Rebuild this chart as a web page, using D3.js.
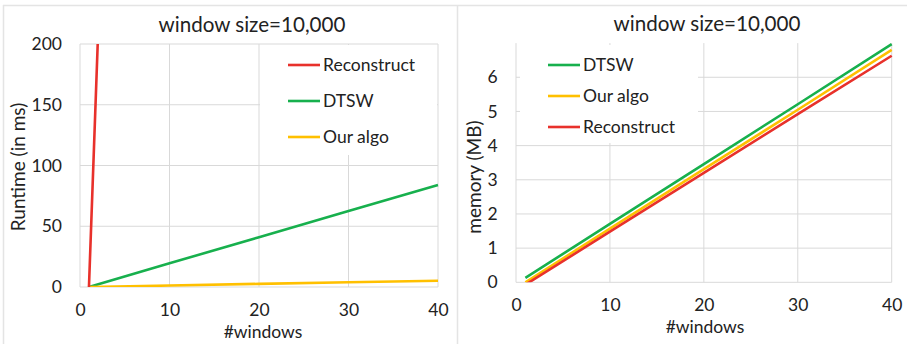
<!DOCTYPE html>
<html><head><meta charset="utf-8">
<script src="https://cdn.jsdelivr.net/npm/d3@7"></script>
<style>
html,body{margin:0;padding:0;background:#fff;}
svg text{font-family:Lato,"Open Sans",sans-serif;fill:#222;}
</style></head>
<body><svg id="c" width="907" height="344"></svg>
<script>
// ---- data ----
const titleText = "window size=10,000";
const xTicks = [0, 10, 20, 30, 40];

// Left chart: runtime (ms)
const windowsL = [1, 10, 20, 30, 40];
const runtimeReconstruct = [0, 1840, 3880, 5920, 7960];
const runtimeDTSW = [0, 19.5, 41, 62.5, 84];
const runtimeOurAlgo = [0, 1.2, 2.6, 3.9, 5.2];
const runtimeTicks = [0, 50, 100, 150, 200];

// Right chart: memory (MB)
const windowsR = [1, 10, 20, 30, 40];
const memDTSW = [0.13, 1.71, 3.46, 5.21, 6.97];
const memOurAlgo = [0.0, 1.57, 3.31, 5.05, 6.8];
const memReconstruct = [-0.07, 1.48, 3.2, 4.92, 6.63];
const memTicks = [0, 1, 2, 3, 4, 5, 6];

const colors = {Reconstruct: "#e8312b", DTSW: "#17b04d", "Our algo": "#ffc000"};

const svg = d3.select("#c");

// panel frames
svg.append("line").attr("x1", 3).attr("x2", 907).attr("y1", 5.5).attr("y2", 5.5).attr("stroke", "#e4e4e4").attr("stroke-width", 1.5);
svg.append("line").attr("x1", 3.5).attr("x2", 3.5).attr("y1", 5).attr("y2", 344).attr("stroke", "#e4e4e4").attr("stroke-width", 1.5);
svg.append("line").attr("x1", 457.5).attr("x2", 457.5).attr("y1", 5).attr("y2", 344).attr("stroke", "#e4e4e4").attr("stroke-width", 1.5);

function chart(o) {
  const g = svg.append("g");
  const x = d3.scaleLinear().domain([0, 40]).range([o.x0, o.x1]);
  const y = d3.scaleLinear().domain(o.yDomain).range([o.yBot, o.yTop]);
  // grid
  g.selectAll(".gx").data(xTicks).join("line")
    .attr("x1", d => x(d)).attr("x2", d => x(d)).attr("y1", o.yTop).attr("y2", o.yBot)
    .attr("stroke", "#d9d9d9").attr("stroke-width", 1);
  g.selectAll(".gy").data(o.yGrid).join("line")
    .attr("x1", o.x0).attr("x2", o.x1).attr("y1", d => y(d)).attr("y2", d => y(d))
    .attr("stroke", "#d9d9d9").attr("stroke-width", 1);
  // axes labels via d3 axes
  const ax = g.append("g").attr("transform", `translate(0,${o.xTickY})`)
    .call(d3.axisBottom(x).tickValues(xTicks).tickFormat(d3.format("d")).tickSize(0).tickPadding(0));
  ax.select(".domain").remove();
  ax.selectAll("text").attr("font-size", 17.5).attr("dy", "0.71em").style("font-family", "Lato,sans-serif").attr("fill", "#222");
  const ay = g.append("g").attr("transform", `translate(${o.yTickX},0)`)
    .call(d3.axisLeft(y).tickValues(o.yTicks).tickFormat(d3.format("d")).tickSize(0).tickPadding(0));
  ay.select(".domain").remove();
  ay.selectAll("text").attr("font-size", 17.5).style("font-family", "Lato,sans-serif").attr("fill", "#222");
  // clip
  const cid = "clip" + o.id;
  svg.append("clipPath").attr("id", cid).append("rect")
    .attr("x", o.x0 - 2).attr("y", o.yTop).attr("width", o.x1 - o.x0 + 4).attr("height", o.yBot - o.yTop);
  // legend background
  g.append("rect").attr("x", o.legBox[0]).attr("y", o.legBox[1]).attr("width", o.legBox[2]).attr("height", o.legBox[3]).attr("fill", "#fff");
  // lines
  const line = d3.line().x(d => x(d[0])).y(d => y(d[1]));
  o.series.forEach(s => {
    g.append("path").datum(s.xs.map((v, i) => [v, s.ys[i]]))
      .attr("d", line).attr("fill", "none").attr("stroke", colors[s.name])
      .attr("stroke-width", 2.6).attr("clip-path", `url(#${cid})`);
  });
  // legend
  o.legend.forEach((name, i) => {
    const ly = o.legY[i];
    g.append("line").attr("x1", o.legX).attr("x2", o.legX + 32).attr("y1", ly).attr("y2", ly)
      .attr("stroke", colors[name]).attr("stroke-width", 2.6);
    g.append("text").attr("x", o.legX + 35).attr("y", ly).attr("dy", "0.35em").attr("font-size", 17.5).text(name);
  });
  // titles
  g.append("text").attr("x", o.titleX).attr("y", o.titleY).attr("text-anchor", "middle").attr("font-size", 20.6).text(titleText);
  g.append("text").attr("x", o.xLabX).attr("y", o.xLabY).attr("text-anchor", "middle").attr("font-size", 17.5).text("#windows");
  g.append("text").attr("transform", `translate(${o.yLabX},${o.yLabY}) rotate(-90)`).attr("text-anchor", "middle").attr("font-size", 19).text(o.yLabel);
}

chart({
  id: "L", x0: 80, x1: 438, yTop: 44, yBot: 287, yDomain: [0, 200],
  yTicks: runtimeTicks, yGrid: runtimeTicks, xTickY: 304, yTickX: 62,
  legBox: [260, 45, 177, 110], legX: 288, legY: [65, 101, 137],
  legend: ["Reconstruct", "DTSW", "Our algo"],
  series: [
    {name: "DTSW", xs: windowsL, ys: runtimeDTSW},
    {name: "Our algo", xs: windowsL, ys: runtimeOurAlgo},
    {name: "Reconstruct", xs: windowsL, ys: runtimeReconstruct}
  ],
  titleX: 252, titleY: 32, xLabX: 263, xLabY: 338, yLabX: 25, yLabY: 167, yLabel: "Runtime (in ms)"
});

chart({
  id: "R", x0: 516, x1: 891.7, yTop: 43.1, yBot: 282.3, yDomain: [0, 7],
  yTicks: memTicks, yGrid: memTicks, xTickY: 299, yTickX: 497.7,
  legBox: [520, 45, 178, 98], legX: 548, legY: [65, 96, 127],
  legend: ["DTSW", "Our algo", "Reconstruct"],
  series: [
    {name: "DTSW", xs: windowsR, ys: memDTSW},
    {name: "Our algo", xs: windowsR, ys: memOurAlgo},
    {name: "Reconstruct", xs: windowsR, ys: memReconstruct}
  ],
  titleX: 707, titleY: 31, xLabX: 705, xLabY: 333, yLabX: 481, yLabY: 177, yLabel: "memory (MB)"
});
</script></body></html>
